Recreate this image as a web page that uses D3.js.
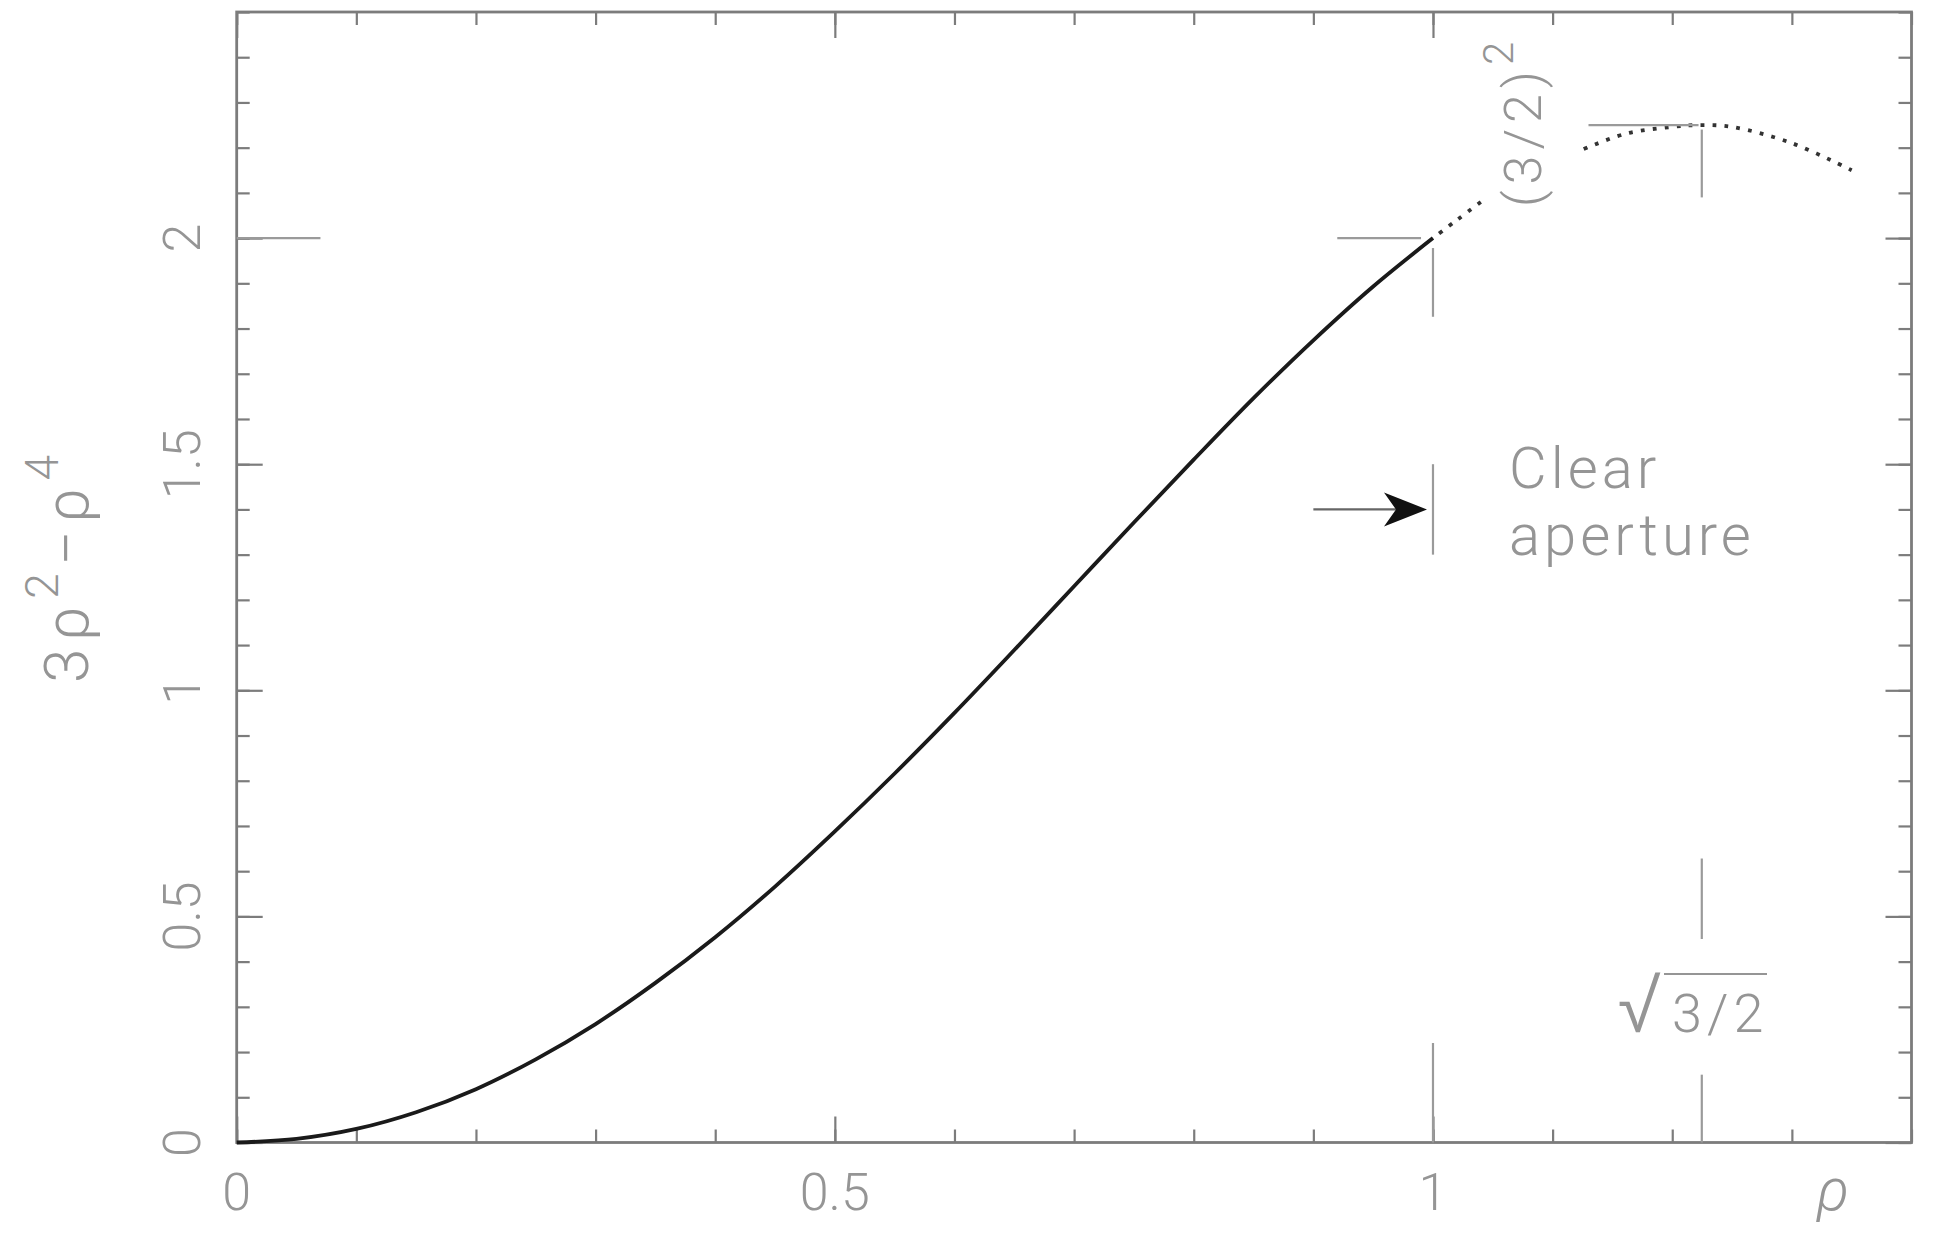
<!DOCTYPE html>
<html>
<head>
<meta charset="utf-8">
<script src="https://cdn.jsdelivr.net/npm/d3@7"></script>
<style>
  body { margin: 0; background: #fff; }
  svg { display: block; }
  text { font-family: Roboto, "DejaVu Sans", sans-serif; font-weight: 300; fill: #959595; }
</style>
</head>
<body>
<svg class="chart" width="1935" height="1245"></svg>
<script>
// solid curve, inside the clear aperture
var rhoIn = [0, 0.05, 0.1, 0.15, 0.2, 0.25, 0.3, 0.35, 0.4, 0.45, 0.5,
             0.55, 0.6, 0.65, 0.7, 0.75, 0.8, 0.85, 0.9, 0.95, 1];
var valIn = [0, 0.008, 0.030, 0.067, 0.118, 0.184, 0.262, 0.353, 0.454, 0.566, 0.688,
             0.816, 0.950, 1.089, 1.230, 1.371, 1.510, 1.646, 1.774, 1.893, 2.0];

// dotted continuation past the aperture (broken where the label sits)
var rhoOut1 = [1, 1.02, 1.04];
var valOut1 = [2.0, 2.04, 2.08];
var rhoOut2 = [1.12, 1.16, 1.2, 1.225, 1.25, 1.3, 1.35];
var valOut2 = [2.19, 2.23, 2.246, 2.25, 2.246, 2.21, 2.15];

// axis ticks
var xMajor = [0, 0.5, 1];
var xLabels = ["0", "0.5", "1"];
var yMajor = [0, 0.5, 1, 1.5, 2];
var yLabels = ["0", "0.5", "1", "1.5", "2"];

// annotation values
var apertureRho = 1, apertureVal = 2;
var peakRho = 1.2247, peakVal = 2.25;
var arrowFrom = 0.9, arrowVal = 1.4;

var chart = d3.select(".chart");

var x = d3.scaleLinear().domain([0, 1.4]).range([236.7, 1911.5]);
var y = d3.scaleLinear().domain([0, 2.5]).range([1142.5, 12]);

var frameColor = "#7c7c7c";
var markColor = "#9a9a9a";

/* Axes */
function ticks(g, axis, values, size) {
  g.call(axis.tickValues(values).tickSize(-size).tickSizeOuter(0).tickFormat(""));
  g.select(".domain").remove();
  g.selectAll("line").attr("stroke", frameColor).attr("stroke-width", 2.2);
}
var xMinor = x.ticks(14), yMinor = y.ticks(25);
[[d3.axisBottom(x), "translate(0," + y(0) + ")", xMinor, xMajor],
 [d3.axisTop(x), "translate(0," + y(2.5) + ")", xMinor, xMajor],
 [d3.axisLeft(y), "translate(" + x(0) + ",0)", yMinor, yMajor],
 [d3.axisRight(y), "translate(" + x(1.4) + ",0)", yMinor, yMajor]
].forEach(function (a) {
  chart.append("g").attr("transform", a[1]).call(ticks, a[0], a[2], 13);
  chart.append("g").attr("transform", a[1]).call(ticks, a[0], a[3], 26);
});

chart.append("rect")
  .attr("x", x(0)).attr("y", y(2.5))
  .attr("width", x(1.4) - x(0)).attr("height", y(0) - y(2.5))
  .attr("fill", "none").attr("stroke", frameColor).attr("stroke-width", 2.8);

/* Tick labels */
chart.selectAll(".xl").data(xMajor).enter().append("text")
  .attr("x", function (d) { return x(d); })
  .attr("y", 1210)
  .attr("text-anchor", "middle")
  .attr("font-size", 52)
  .text(function (d, i) { return xLabels[i]; });

chart.selectAll(".yl").data(yMajor).enter().append("text")
  .attr("transform", function (d) { return "translate(200," + y(d) + ") rotate(-90)"; })
  .attr("text-anchor", "middle")
  .attr("font-size", 52)
  .text(function (d, i) { return yLabels[i]; });

chart.append("text")
  .attr("x", 1833).attr("y", 1210)
  .attr("text-anchor", "middle")
  .attr("font-size", 60).attr("font-style", "italic")
  .text("ρ");

var yTitle = chart.append("text")
  .attr("transform", "translate(88," + 569 + ") rotate(-90)")
  .attr("text-anchor", "middle")
  .attr("font-size", 62)
  .attr("textLength", 228);
yTitle.append("tspan").text("3ρ");
yTitle.append("tspan").attr("dy", -30).attr("font-size", 46).text("2");
yTitle.append("tspan").attr("dy", 30).text("−ρ");
yTitle.append("tspan").attr("dy", -30).attr("font-size", 46).text("4");

/* Curve */
function line(rho) {
  return d3.line()
    .x(function (d, i) { return x(rho[i]); })
    .y(function (d) { return y(d); })
    .curve(d3.curveCatmullRom);
}
chart.append("path")
  .attr("d", line(rhoIn)(valIn))
  .attr("fill", "none").attr("stroke", "#1a1a1a").attr("stroke-width", 3.8);

[[rhoOut1, valOut1], [rhoOut2, valOut2]].forEach(function (s) {
  chart.append("path")
    .attr("d", line(s[0])(s[1]))
    .attr("fill", "none").attr("stroke", "#333")
    .attr("stroke-width", 3.8).attr("stroke-dasharray", "3.8 8.2")
    .attr("stroke-dashoffset", -8);
});

/* Markers */
var marks = [
  // [x1, y1, x2, y2] in data units
  [0, 2, 0.07, 2],
  [0.92, apertureVal, 0.99, apertureVal],
  [apertureRho, 1.978, apertureRho, 1.826],
  [apertureRho, 1.5, apertureRho, 1.3],
  [apertureRho, 0, apertureRho, 0.22],
  [1.13, peakVal, 1.222, peakVal],
  [peakRho, 2.24, peakRho, 2.09],
  [peakRho, 0.628, peakRho, 0.45],
  [peakRho, 0, peakRho, 0.15]
];
chart.selectAll(".mark").data(marks).enter().append("line")
  .attr("x1", function (d) { return x(d[0]); })
  .attr("y1", function (d) { return y(d[1]); })
  .attr("x2", function (d) { return x(d[2]); })
  .attr("y2", function (d) { return y(d[3]); })
  .attr("stroke", markColor).attr("stroke-width", 2.2);

/* Arrow to the aperture edge */
var tipX = x(apertureRho) - 6;
chart.append("line")
  .attr("x1", x(arrowFrom)).attr("y1", y(arrowVal))
  .attr("x2", tipX - 30).attr("y2", y(arrowVal))
  .attr("stroke", "#666").attr("stroke-width", 2.2);
chart.append("path")
  .attr("transform", "translate(" + tipX + "," + y(arrowVal) + ")")
  .attr("d", "M0,0 L-43,-17 L-31,0 L-43,17 Z")
  .attr("fill", "#111");

/* Labels */
chart.append("text").attr("x", 1509).attr("y", 488)
  .attr("font-size", 58).attr("letter-spacing", 4).text("Clear");
chart.append("text").attr("x", 1509).attr("y", 555)
  .attr("font-size", 58).attr("letter-spacing", 4).text("aperture");

var peakLabel = chart.append("text")
  .attr("transform", "translate(1541,207) rotate(-90)")
  .attr("font-size", 52).attr("letter-spacing", 6);
peakLabel.append("tspan").text("(3/2)");
peakLabel.append("tspan").attr("dy", -28).attr("font-size", 42).text("2");

chart.append("text")
  .attr("transform", "translate(1617,1032) scale(1.2,1.2)")
  .attr("font-family", "'DejaVu Sans ExtraLight', 'DejaVu Sans'").attr("font-weight", 200)
  .attr("font-size", 70).attr("fill", "#ababab").text("√");
chart.append("text").attr("x", 1672).attr("y", 1032)
  .attr("font-size", 54).attr("letter-spacing", 5).text("3/2");
chart.append("line")
  .attr("x1", 1664).attr("x2", 1767)
  .attr("y1", 974).attr("y2", 974)
  .attr("stroke", "#959595").attr("stroke-width", 2.2);
</script>
</body>
</html>
